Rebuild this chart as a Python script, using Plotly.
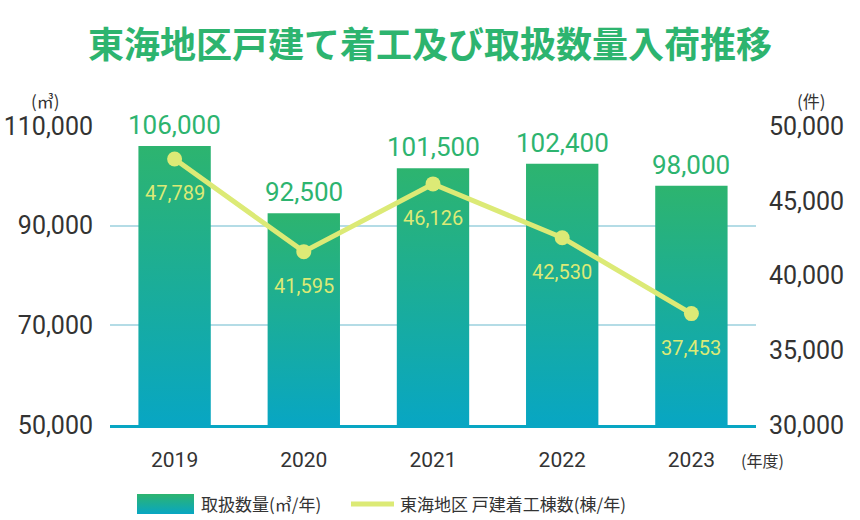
import base64
import plotly.graph_objects as go

# ---------------- data ----------------
years = ["2019", "2020", "2021", "2022", "2023"]
volume_m3 = [106000, 92500, 101500, 102400, 98000]          # 取扱数量 (㎥/年)
housing_starts = [47789, 41595, 46126, 42530, 37453]         # 東海地区 戸建着工棟数 (棟/年)
left_ticks = [50000, 70000, 90000, 110000]
right_ticks = [30000, 35000, 40000, 45000, 50000]

title_text = "東海地区戸建て着工及び取扱数量入荷推移"
bar_name = "取扱数量(㎥/年)"
line_name = "東海地区 戸建着工棟数(棟/年)"

# ---------------- styles ----------------
W, H = 860, 520
# plot area in pixels
PL, PR, PT, PB = 110, 756, 126, 425
ML, MR, MT, MB = PL, W - PR, PT, H - PB
GREEN = "#2db46f"
TEAL = "#08a6c3"
LINE_C = "#dcea76"
GRID_C = "#b4dce6"
TXT = "#333333"
NUM_FONT = "Roboto, Noto Sans CJK JP, sans-serif"
CJK_FONT = "Noto Sans CJK JP, sans-serif"
BAR_W = 0.56
Y_MIN = left_ticks[0]

def px_x(p):
    return (p - PL) / (PR - PL)

def px_y(p):
    return (PB - p) / (PB - PT)

fig = go.Figure()

# gradient bars (filled polygons with vertical gradient)
for i, v in enumerate(volume_m3):
    fig.add_trace(go.Scatter(
        x=[i - BAR_W / 2, i - BAR_W / 2, i + BAR_W / 2, i + BAR_W / 2, i - BAR_W / 2],
        y=[Y_MIN, v, v, Y_MIN, Y_MIN],
        mode="none",
        fill="toself",
        fillgradient=dict(type="vertical", colorscale=[[0, TEAL], [1, GREEN]]),
        hoverinfo="skip",
        showlegend=False,
    ))

# line on secondary axis
fig.add_trace(go.Scatter(
    x=list(range(len(years))), y=housing_starts,
    yaxis="y2",
    mode="lines+markers",
    line=dict(color=LINE_C, width=5),
    marker=dict(color=LINE_C, size=15),
    showlegend=False, hoverinfo="skip",
))

# bar value labels
for i, v in enumerate(volume_m3):
    fig.add_annotation(
        x=i, y=v, xref="x", yref="y",
        text=f"{v:,}", showarrow=False,
        xanchor="center", yanchor="bottom", yshift=4,
        font=dict(family=NUM_FONT, size=26, color=GREEN),
    )

# line value labels
for i, v in enumerate(housing_starts):
    fig.add_annotation(
        x=i, y=v, xref="x", yref="y2",
        text=f"{v:,}", showarrow=False,
        xanchor="center", yanchor="middle",
        yshift=-34,
        font=dict(family=NUM_FONT, size=20, color=LINE_C),
    )

def paper_text(x, y, text, size, xanchor="center"):
    fig.add_annotation(x=px_x(x), y=px_y(y), xref="paper", yref="paper",
                       text=text, showarrow=False,
                       xanchor=xanchor, yanchor="middle",
                       font=dict(family=CJK_FONT, size=size, color=TXT))

# unit labels
paper_text(45, 100, "(㎥)", 17)
paper_text(812, 100, "(件)", 17)
paper_text(739, 460, "(年度)", 16, "left")

# custom legend
svg = (f'<svg xmlns="http://www.w3.org/2000/svg" width="57" height="20" preserveAspectRatio="none">'
       f'<defs><linearGradient id="g" x1="0" y1="0" x2="0" y2="1">'
       f'<stop offset="0" stop-color="{GREEN}"/><stop offset="1" stop-color="{TEAL}"/>'
       f'</linearGradient></defs><rect width="57" height="20" fill="url(#g)"/></svg>')
src = "data:image/svg+xml;base64," + base64.b64encode(svg.encode()).decode()
fig.add_layout_image(dict(
    source=src, xref="paper", yref="paper",
    x=px_x(137), y=px_y(494),
    sizex=px_x(194) - px_x(137), sizey=px_y(494) - px_y(514),
    xanchor="left", yanchor="top", sizing="stretch", layer="above",
))
paper_text(199, 503, bar_name, 17, "left")
fig.add_shape(type="line", xref="paper", yref="paper",
              x0=px_x(351), x1=px_x(394), y0=px_y(504), y1=px_y(504),
              line=dict(color=LINE_C, width=5))
paper_text(398, 503, line_name, 17, "left")

fig.update_layout(
    width=W, height=H,
    margin=dict(l=ML, r=MR, t=MT, b=MB, autoexpand=False),
    paper_bgcolor="white", plot_bgcolor="white",
    showlegend=False,
    title=dict(text=title_text, x=430 / W, xanchor="center", xref="container",
               y=1 - 45 / H, yanchor="middle", yref="container",
               font=dict(family=CJK_FONT, size=36, color=GREEN, weight=700)),
    xaxis=dict(
        range=[-0.5, len(years) - 0.5],
        tickvals=list(range(len(years))), ticktext=years,
        showgrid=False, zeroline=False,
        showline=True, linecolor=TEAL, linewidth=3,
        ticks="", ticklabelstandoff=14, automargin=False,
        tickfont=dict(family=NUM_FONT, size=21, color=TXT),
    ),
    yaxis=dict(
        range=[left_ticks[0], left_ticks[-1]],
        tickvals=left_ticks, tickformat=",",
        showgrid=True, gridcolor=GRID_C, gridwidth=2,
        zeroline=False, showline=False, ticks="",
        ticklabelstandoff=16, automargin=False,
        tickfont=dict(family=NUM_FONT, size=25, color=TXT),
    ),
    yaxis2=dict(
        range=[right_ticks[0], right_ticks[-1]],
        tickvals=right_ticks, tickformat=",",
        overlaying="y", side="right",
        showgrid=False, zeroline=False, showline=False, ticks="",
        ticklabelstandoff=12, automargin=False,
        tickfont=dict(family=NUM_FONT, size=25, color=TXT),
    ),
)

fig.write_html("out.html", config={"displayModeBar": False},
               post_script="document.body.style.margin='0px';")
